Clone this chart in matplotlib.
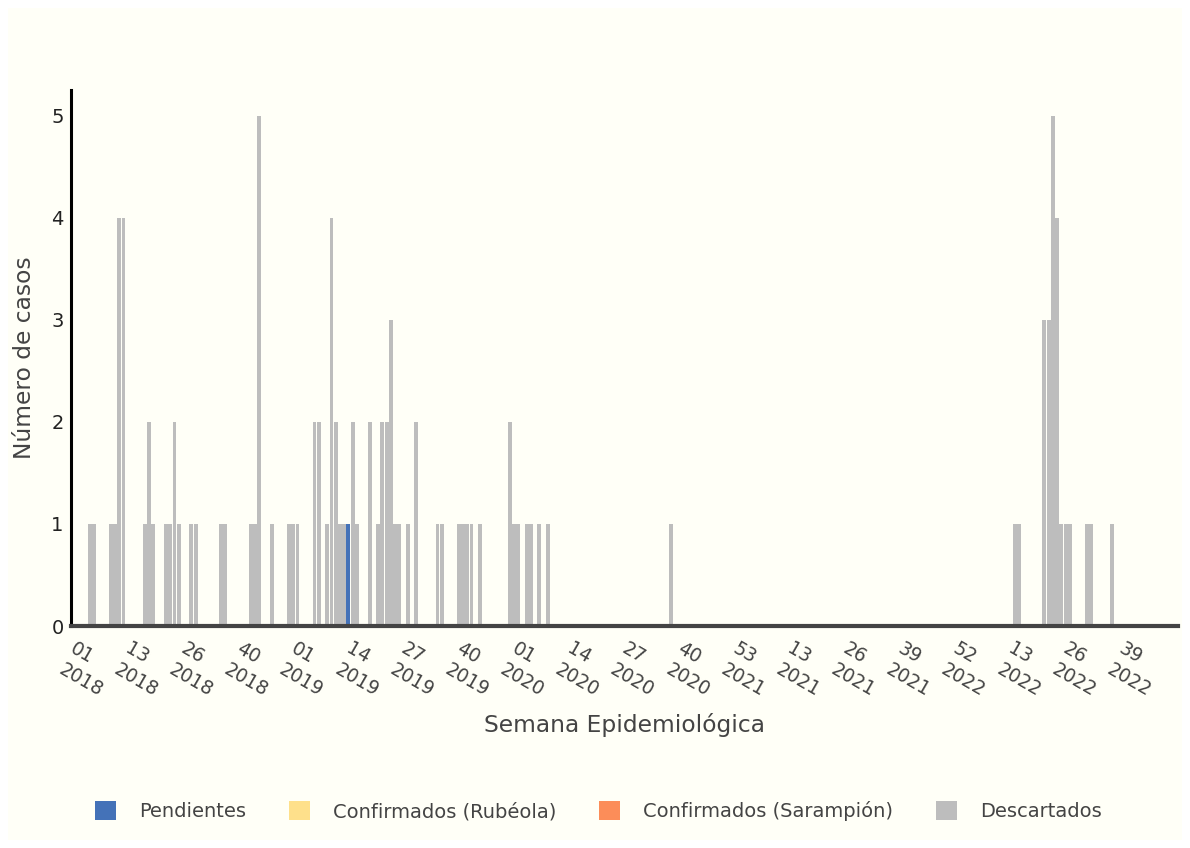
import matplotlib
matplotlib.use("Agg")
import matplotlib.pyplot as plt
from matplotlib.patches import Patch, Rectangle
from matplotlib.transforms import ScaledTranslation
import numpy as np

# ---------------- data ----------------
years_weeks = [(2018, 52), (2019, 52), (2020, 53), (2021, 52), (2022, 52)]
categories = [f"{y}-{w:02d}" for y, n in years_weeks for w in range(1, n + 1)]

pendientes_weeks = ["2019-14"]
pendientes_counts = [1]

rubeola_weeks = []
rubeola_counts = []

sarampion_weeks = []
sarampion_counts = []

descartados_weeks = [
    "2018-05", "2018-06", "2018-10", "2018-11", "2018-12", "2018-13",
    "2018-18", "2018-19", "2018-20", "2018-23", "2018-24", "2018-25", "2018-26",
    "2018-29", "2018-30", "2018-36", "2018-37", "2018-43", "2018-44", "2018-45",
    "2018-48", "2018-52",
    "2019-01", "2019-02", "2019-06", "2019-07", "2019-09", "2019-10", "2019-11",
    "2019-12", "2019-13", "2019-15", "2019-16", "2019-19", "2019-21", "2019-22",
    "2019-23", "2019-24", "2019-25", "2019-26", "2019-28", "2019-30", "2019-35",
    "2019-36", "2019-40", "2019-41", "2019-42", "2019-43", "2019-45", "2019-52",
    "2020-01", "2020-02", "2020-04", "2020-05", "2020-07", "2020-09", "2020-38",
    "2022-14", "2022-15", "2022-21", "2022-22", "2022-23", "2022-24", "2022-25",
    "2022-26", "2022-27", "2022-31", "2022-32", "2022-37",
]
descartados_counts = [
    1, 1, 1, 1, 4, 4,
    1, 2, 1, 1, 1, 2, 1,
    1, 1, 1, 1, 1, 1, 5,
    1, 1,
    1, 1, 2, 2, 1, 4, 2,
    1, 1, 2, 1, 2, 1, 2,
    2, 3, 1, 1, 1, 2, 1,
    1, 1, 1, 1, 1, 1, 2,
    1, 1, 1, 1, 1, 1, 1,
    1, 1, 3, 3, 5, 4, 1,
    1, 1, 1, 1, 1,
]

tick_labels = [
    "01\n2018", "13\n2018", "26\n2018", "40\n2018",
    "01\n2019", "14\n2019", "27\n2019", "40\n2019",
    "01\n2020", "14\n2020", "27\n2020", "40\n2020",
    "53\n2021", "13\n2021", "26\n2021", "39\n2021",
    "52\n2022", "13\n2022", "26\n2022", "39\n2022",
]
tick_step = 13

series_names = ["Pendientes", "Confirmados (Rubéola)", "Confirmados (Sarampión)", "Descartados"]
series_colors = ["#4472b8", "#fee08b", "#fc8d59", "#bdbdbd"]

# ---------------- build ----------------
idx = {c: i for i, c in enumerate(categories)}
def full(weeks, counts):
    arr = np.zeros(len(categories))
    for w, c in zip(weeks, counts):
        arr[idx[w]] = c
    return arr

series = [full(pendientes_weeks, pendientes_counts),
          full(rubeola_weeks, rubeola_counts),
          full(sarampion_weeks, sarampion_counts),
          full(descartados_weeks, descartados_counts)]

W, H = 1190, 848
bg = "#fffff7"
fig = plt.figure(figsize=(W / 100, H / 100), dpi=100)
fig.patch.set_facecolor("white")
fig.patches.append(Rectangle((8 / W, 8 / H), 1 - 16 / W, 1 - 16 / H,
                             transform=fig.transFigure, facecolor=bg,
                             edgecolor="none", zorder=-10))

left, right, top, bottom = 70.5, 1178, 90, 626
ax = fig.add_axes([left / W, 1 - bottom / H, (right - left) / W, (bottom - top) / H])
ax.set_facecolor(bg)

x = np.arange(len(categories))
base = np.zeros(len(categories))
for vals, name, col in zip(series, series_names, series_colors):
    ax.bar(x, vals, width=0.92, bottom=base, color=col, linewidth=0, label=name)
    base = base + vals

ax.set_xlim(-0.5, len(categories) - 0.5)
ax.set_ylim(0, 5.25)

for s in ["top", "right"]:
    ax.spines[s].set_visible(False)
ax.spines["left"].set_color("black")
ax.spines["left"].set_linewidth(2.2)
ax.spines["bottom"].set_color("#444444")
ax.spines["bottom"].set_linewidth(3.0)

ax.set_yticks(range(0, 6))
ax.tick_params(axis="y", length=0, pad=5, labelsize=14, labelcolor="#222222")

tick_pos = [i * tick_step for i in range(len(tick_labels))]
ax.set_xticks(tick_pos)
ax.set_xticklabels(tick_labels, rotation=-30, ha="left", va="top",
                   rotation_mode="anchor", multialignment="left",
                   linespacing=1.3)
ax.tick_params(axis="x", length=0, pad=9.5, labelsize=13.5, labelcolor="#444444")
offset = ScaledTranslation(4.0 / 100, 0, fig.dpi_scale_trans)
for lbl in ax.get_xticklabels():
    lbl.set_transform(lbl.get_transform() + offset)

ax.set_xlabel("Semana Epidemiológica", fontsize=16.8, color="#444444")
ax.xaxis.label.set_va("baseline")
ax.xaxis.set_label_coords(0.5, (bottom - 732) / (bottom - top))

ax.set_ylabel("Número de casos", fontsize=16.8, color="#444444")
ax.yaxis.label.set_va("center")
ax.yaxis.set_label_coords((25 - left) / (right - left), 0.5)

handles = [Patch(facecolor=c, edgecolor="none") for c in series_colors]
leg = fig.legend(handles, series_names, loc="center",
                 bbox_to_anchor=(598.5 / W, 1 - 811 / H), ncol=4, frameon=False,
                 fontsize=14, handlelength=1.08, handleheight=1.08,
                 handletextpad=1.18, columnspacing=2.2)
for t in leg.get_texts():
    t.set_color("#444444")

fig.savefig("out.png", dpi=100, facecolor=fig.get_facecolor())
